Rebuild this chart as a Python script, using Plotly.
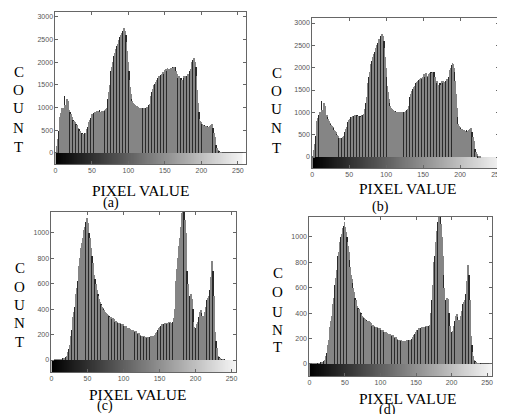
import numpy as np
import plotly.graph_objects as go

# ---------------- data ----------------
pixel_values = list(range(256))

counts_a = [
    0, 20, 60, 150, 300, 480, 650, 800, 880, 950, 1000, 920, 1000, 1250, 1050, 950,
    1200, 950, 1150, 930, 940, 900, 850, 800, 760, 730, 710, 690, 670, 640, 610, 580,
    550, 520, 490, 460, 440, 430, 420, 410, 420, 430, 450, 480, 520, 570, 620, 680,
    730, 780, 820, 850, 870, 890, 900, 910, 900, 920, 930, 910, 920, 940, 910, 900,
    920, 910, 900, 920, 940, 930, 960, 1000, 1080, 1200, 1350, 1500, 1650, 1800, 1900, 2000,
    2080, 2150, 2200, 2250, 2300, 2350, 2400, 2450, 2500, 2550, 2600, 2650, 2600, 2700, 2650, 2750,
    2700, 2600, 2450, 2250, 2000, 1800, 1600, 1450, 1300, 1200, 1150, 1100, 1080, 1060, 1050, 1040,
    1030, 1020, 1010, 1000, 1000, 990, 1000, 1000, 990, 1000, 1000, 990, 1000, 1000, 1010, 1020,
    1030, 1050, 1080, 1150, 1250, 1350, 1420, 1470, 1500, 1530, 1560, 1600, 1620, 1650, 1680, 1700,
    1700, 1720, 1750, 1700, 1780, 1750, 1800, 1820, 1850, 1800, 1880, 1850, 1820, 1800, 1850, 1880,
    1850, 1900, 1880, 1900, 1850, 1900, 1800, 1750, 1700, 1650, 1700, 1620, 1600, 1650, 1620, 1600,
    1700, 1650, 1700, 1680, 1650, 1700, 1750, 1700, 1750, 1800, 1850, 1950, 2000, 2050, 2100, 2080,
    2000, 1900, 1700, 1400, 1100, 900, 750, 700, 680, 650, 630, 620, 600, 610, 600, 590,
    580, 600, 570, 580, 600, 600, 620, 650, 600, 550, 450, 350, 250, 170, 110, 70,
    40, 25, 15, 8, 3, 0, 0, 0, 0, 0, 0, 0, 0, 0, 0, 0,
    0, 0, 0, 0, 0, 0, 0, 0, 0, 0, 0, 0, 0, 0, 0, 0,
]
counts_b = list(counts_a)

counts_c = [
    0, 0, 0, 0, 0, 1, 1, 2, 2, 3, 3, 4, 4, 5, 5, 6,
    7, 8, 10, 12, 15, 20, 30, 45, 65, 90, 120, 150, 190, 240, 290, 340,
    380, 420, 470, 520, 570, 620, 680, 740, 800, 850, 880, 920, 960, 1000, 1020, 1050,
    1070, 1090, 1120, 1080, 1040, 1000, 960, 930, 880, 820, 760, 700, 670, 640, 600, 570,
    550, 520, 500, 480, 460, 440, 430, 420, 410, 400, 390, 380, 370, 365, 360, 355,
    350, 345, 340, 330, 335, 320, 330, 310, 320, 300, 310, 295, 300, 290, 295, 285,
    290, 280, 285, 270, 280, 265, 270, 260, 265, 250, 255, 245, 250, 240, 245, 235,
    240, 230, 235, 225, 230, 220, 225, 210, 215, 205, 210, 200, 195, 190, 190, 185,
    190, 180, 185, 175, 180, 175, 180, 178, 182, 180, 185, 182, 188, 185, 190, 192,
    195, 200, 210, 220, 230, 240, 250, 260, 265, 270, 280, 275, 285, 280, 290, 285,
    290, 285, 295, 290, 300, 295, 300, 290, 295, 300, 310, 330, 400, 500, 620, 720,
    800, 850, 900, 960, 1050, 1120, 1160, 1200, 1180, 1200, 1100, 1000, 850, 700, 600, 500,
    480, 500, 520, 510, 480, 400, 300, 260, 250, 255, 260, 280, 300, 340, 360, 380,
    390, 370, 350, 340, 345, 360, 380, 420, 450, 470, 490, 500, 480, 550, 650, 720,
    780, 700, 500, 330, 220, 150, 94, 60, 35, 20, 12, 8, 5, 3, 2, 1,
    1, 1, 0, 0, 0, 0, 0, 0, 0, 0, 0, 0, 0, 0, 0, 0,
]
counts_d = list(counts_c)

x_ticks = [0, 50, 100, 150, 200, 250]
y_ticks_ab = [0, 500, 1000, 1500, 2000, 2500, 3000]
y_ticks_cd = [0, 200, 400, 600, 800, 1000]
panel_labels = ["(a)", "(b)", "(c)", "(d)"]
x_title = "PIXEL VALUE"
y_title_letters = ["C", "O", "U", "N", "T"]

# ---------------- layout geometry ----------------
# the page body keeps an 8px margin, so the figure is sized to fit the window
OFF = 8
W, H = 505 - OFF, 414 - OFF

def px_x(v):
    return (v - OFF) / W

def px_y(v):
    return 1 - (v - OFF) / H

panels = [
    dict(counts=counts_a, xd=[54, 247], yd=[12, 164], xr=[0, 261.3], yr=[-243, 3110], yt=y_ticks_ab,
         xt_c=140, xt_y=190, lab_x=110, lab_y=203, cx=17, cys=[72, 90, 108, 128, 147]),
    dict(counts=counts_b, xd=[314, 503], yd=[18, 168], xr=[0, 252.7], yr=[-246, 3112], yt=y_ticks_ab,
         xt_c=410, xt_y=189, lab_x=383, lab_y=207, cx=278, cys=[73, 91, 109, 128, 148]),
    dict(counts=counts_c, xd=[50, 237], yd=[212, 372], xr=[0, 256.5], yr=[-94.5, 1165], yt=y_ticks_cd,
         xt_c=137, xt_y=394, lab_x=104, lab_y=406, cx=18, cys=[268, 287, 305, 323, 342]),
    dict(counts=counts_d, xd=[311, 496], yd=[217, 376], xr=[0, 257], yr=[-94.5, 1157], yt=y_ticks_cd,
         xt_c=410, xt_y=398, lab_x=390, lab_y=410, cx=279, cys=[273, 292, 312, 330, 347]),
]

fig = go.Figure()
annotations = []
tick_font = dict(family="Liberation Sans, Arial, sans-serif", size=7, color="#555555")
serif = "Liberation Serif, Times New Roman, serif"

for i, p in enumerate(panels):
    n = i + 1
    xa = "x" if n == 1 else f"x{n}"
    ya = "y" if n == 1 else f"y{n}"
    # gradient bar below zero
    fig.add_trace(go.Heatmap(
        z=[pixel_values], x=list(range(257)), y=[p["yr"][0], 0],
        colorscale=[[0, "#000000"], [1, "#f4f4f4"]], showscale=False,
        xaxis=xa, yaxis=ya, hoverinfo="skip"))
    colors = ["#2a2a2a" if (k % 4 == 1) else "#858585" for k in pixel_values]
    fig.add_trace(go.Bar(
        x=pixel_values, y=p["counts"], width=1.0,
        marker=dict(color=colors, line=dict(width=0)),
        xaxis=xa, yaxis=ya, showlegend=False))
    axis_common = dict(showline=True, linecolor="#666666", linewidth=1, mirror="ticks",
                       ticks="inside", ticklen=3, tickcolor="#666666", showgrid=False,
                       tickfont=tick_font, ticklabeloverflow="allow")
    fig.layout[("xaxis" if n == 1 else f"xaxis{n}")] = dict(
        domain=[px_x(p["xd"][0]), min(1.0, px_x(p["xd"][1]))], range=p["xr"],
        tickvals=x_ticks, anchor=ya, zeroline=False, **axis_common)
    fig.layout[("yaxis" if n == 1 else f"yaxis{n}")] = dict(
        domain=[px_y(p["yd"][1]), min(1.0, px_y(p["yd"][0]))], range=p["yr"],
        tickvals=p["yt"], anchor=xa, zeroline=True, zerolinecolor="#555555",
        zerolinewidth=1, **axis_common)
    annotations.append(dict(text=x_title, x=px_x(p["xt_c"]), y=px_y(p["xt_y"]),
                            xref="paper", yref="paper", showarrow=False,
                            xanchor="center", yanchor="middle",
                            font=dict(family=serif, size=15.5, color="#000000")))
    annotations.append(dict(text=panel_labels[i], x=px_x(p["lab_x"]), y=px_y(p["lab_y"]),
                            xref="paper", yref="paper", showarrow=False,
                            xanchor="center", yanchor="middle",
                            font=dict(family=serif, size=14, color="#000000")))
    for letter, cy in zip(y_title_letters, p["cys"]):
        annotations.append(dict(text=letter, x=px_x(p["cx"]), y=px_y(cy),
                                xref="paper", yref="paper", showarrow=False,
                                xanchor="center", yanchor="middle",
                                font=dict(family=serif, size=15, color="#000000")))

fig.update_layout(
    width=W, height=H, margin=dict(l=0, r=0, t=0, b=0),
    paper_bgcolor="white", plot_bgcolor="white",
    showlegend=False, bargap=0, annotations=annotations,
)

fig.write_html("out.html")
